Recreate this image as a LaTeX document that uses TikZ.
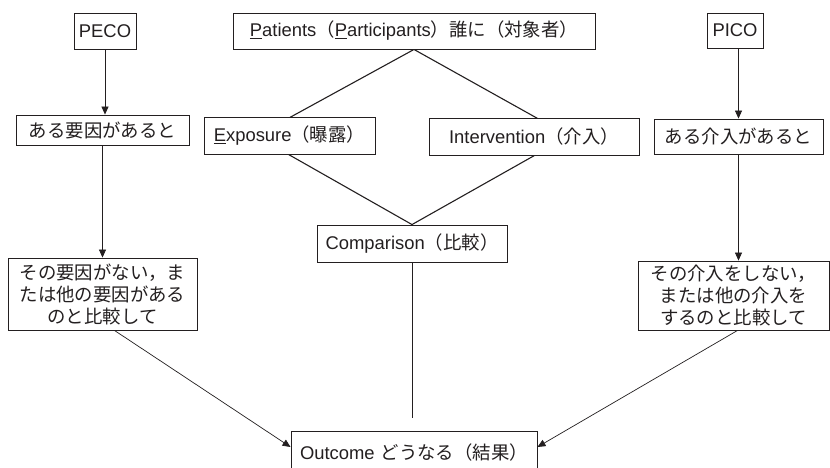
\documentclass[tikz,border=0pt]{standalone}
\usepackage{fontspec}
\setmainfont{Liberation Sans}
\newfontfamily\jp{Noto Sans CJK JP}
\usetikzlibrary{arrows.meta,backgrounds}
\newcommand\J[1]{{\jp #1}}
\definecolor{ink}{HTML}{231F20}
\begin{document}
\begin{tikzpicture}[x=1pt,y=-1pt,
  box/.style={draw=ink, line width=0.9pt, fill=white, inner sep=0pt,
    font=\fontsize{18.4}{22}\selectfont, text=ink, align=center},
  arr/.style={draw=ink, line width=0.7pt, -{Triangle[length=8pt,width=7pt]}},
  ln/.style={draw=ink, line width=0.7pt},
  dia/.style={draw=ink, line width=1.1pt}]
\useasboundingbox (0,0) rectangle (830,467);

\node[box, minimum width=62pt, minimum height=36pt] (peco) at (105,31) {PECO};
\node[box, minimum width=362pt, minimum height=36pt] (pat) at (414,31)
  {\underline{P}atients\J{（}\underline{P}articipants\J{）誰に（対象者）}};
\node[box, minimum width=56pt, minimum height=35pt] (pico) at (735,30.5) {PICO};

\node[box, minimum width=173pt, minimum height=30pt] (e1) at (102.5,130) {\J{ある要因があると}};
\node[box, minimum width=171pt, minimum height=37pt] (exp) at (289.5,135.5)
  {\underline{E}xposure\J{（曝露）}};
\node[box, minimum width=210pt, minimum height=37pt] (int) at (534,136.5)
  {Intervention\J{（介入）}};
\node[box, minimum width=169pt, minimum height=35pt] (i1) at (738.5,136.5) {\J{ある介入があると}};

\node[box, minimum width=190pt, minimum height=37pt] (cmp) at (412,243.5)
  {Comparison\J{（比較）}};
\node[box, minimum width=189pt, minimum height=72pt] (e2) at (102.5,294)
  {\J{その要因がない，ま}\\\J{たは他の要因がある}\\\J{のと比較して}};
\node[box, minimum width=191pt, minimum height=69pt] (i2) at (733.5,295.5)
  {\J{その介入をしない，}\\\J{または他の介入を}\\\J{するのと比較して}};

\node[box, minimum width=246pt, minimum height=42pt] (out) at (414,452)
  {Outcome\hspace{6pt}\J{どうなる（結果）}};

\coordinate (dl) at (256,136);
\coordinate (dr) at (569,136);
\coordinate (cend) at (412,418);

\begin{scope}[on background layer]
\fill[white] (0,0) rectangle (830,467);
\draw[dia] (pat.south) -- (dl) -- (cmp.north) -- (dr) -- cycle;
\end{scope}

\draw[arr] (peco.south) -- (peco.south |- e1.north);
\draw[arr] (e1.south) -- (e1.south |- e2.north);
\draw[arr] (pico.south -| i1.south) -- (i1.north);
\draw[arr] (i1.south) -- (i1.south |- i2.north);
\draw[ln] (cmp.south) -- (cend);
\draw[arr] ([xshift=12pt]e2.south) -- ([yshift=5pt]out.west);
\draw[arr] ([xshift=4pt]i2.south) -- ([yshift=5pt]out.east);
\end{tikzpicture}
\end{document}
